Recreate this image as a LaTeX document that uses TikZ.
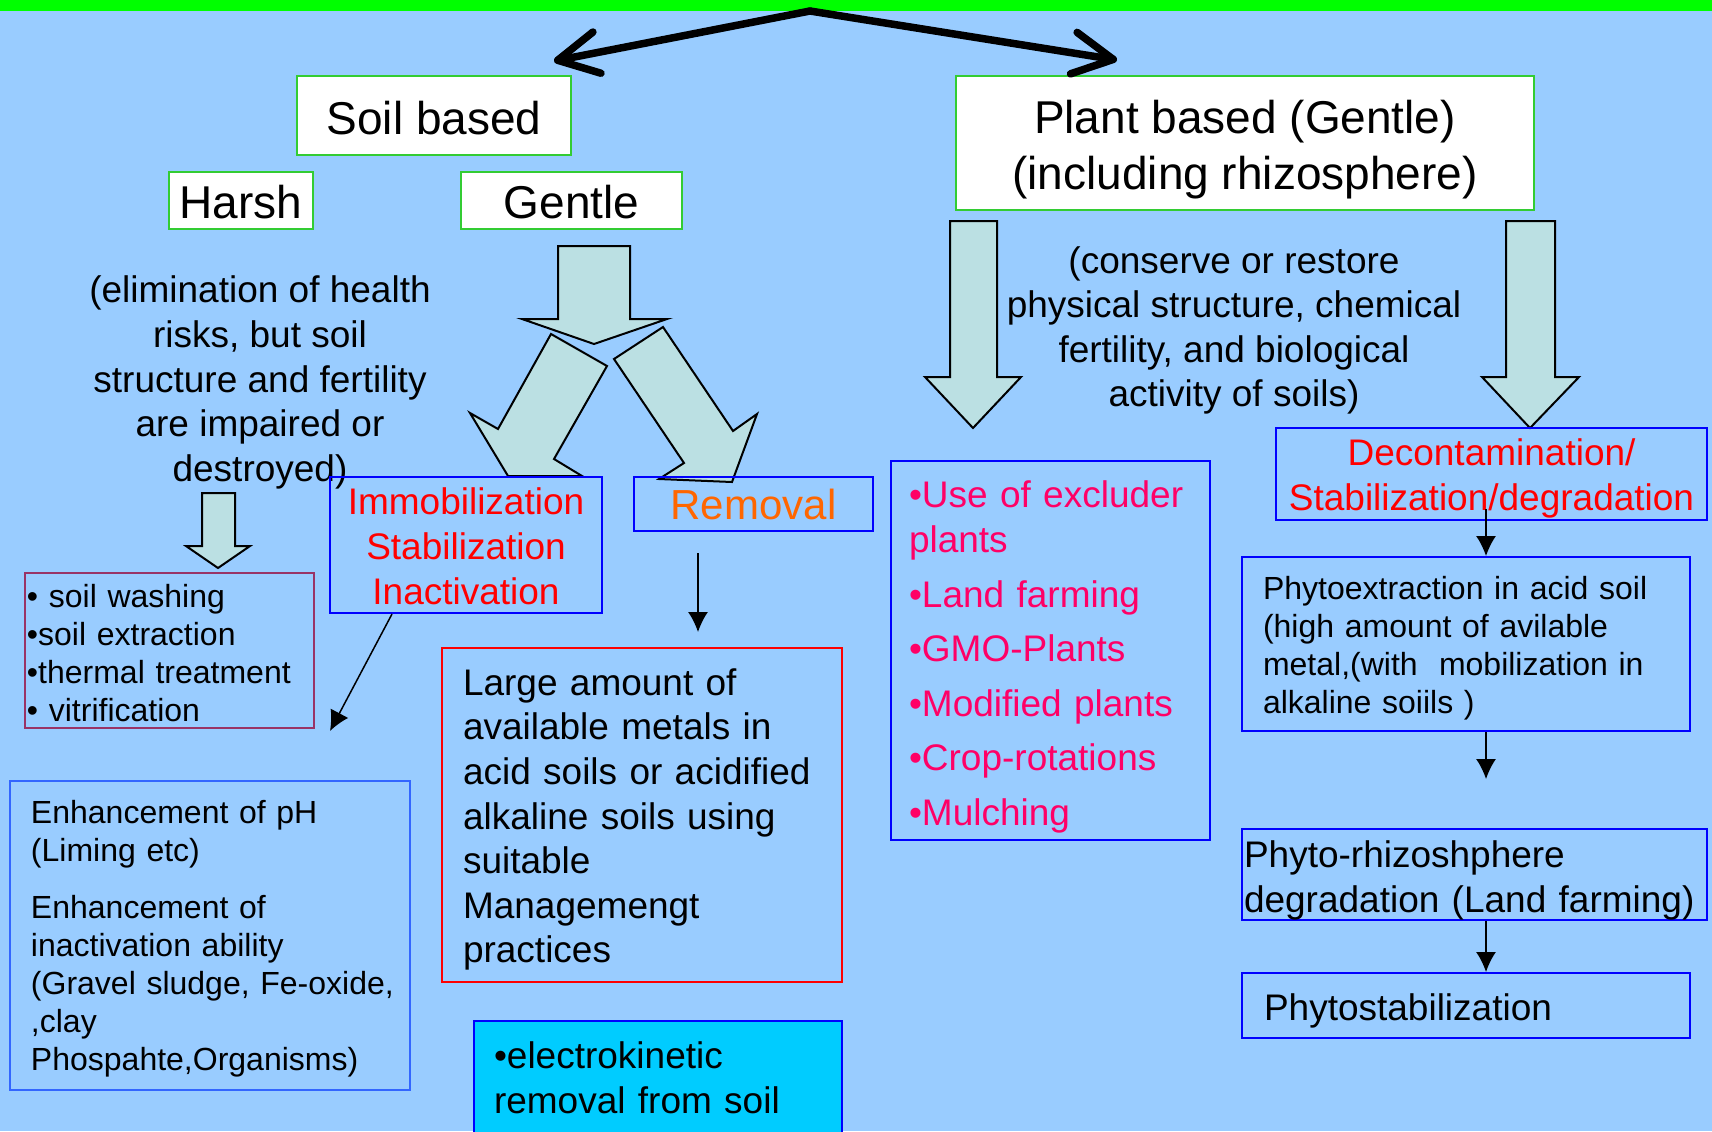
\documentclass[tikz,border=0pt]{standalone}
\usepackage{fontspec}
\setmainfont{Liberation Sans}
\usetikzlibrary{arrows.meta,calc}
\definecolor{bgblue}{RGB}{153,204,255}
\definecolor{bargreen}{RGB}{0,255,0}
\definecolor{boxgreen}{RGB}{51,204,51}
\definecolor{arrowfill}{RGB}{187,224,227}
\definecolor{txtred}{RGB}{255,0,0}
\definecolor{txtorange}{RGB}{255,102,0}
\definecolor{txtpink}{RGB}{255,0,102}
\definecolor{washborder}{RGB}{153,51,102}
\definecolor{enhborder}{RGB}{51,102,255}
\definecolor{electrofill}{RGB}{0,204,255}
% left indent for boxed text, with a strut on the first line
\newcommand{\padtext}[3][1em]{\leftskip=#2\relax\rule{0pt}{#1}#3\par}
\newcommand{\topline}[1]{\rule{0pt}{#1}}
\tikzset{
  headbox/.style={draw=boxgreen, fill=white, line width=1pt, inner sep=0pt, align=center},
  framebox/.style={draw=blue, line width=1pt, inner sep=0pt},
  leftbox/.style={framebox, align=left},
  headfont/.style={font=\fontsize{23}{28}\selectfont},
  midfont/.style={font=\fontsize{18.5}{22.3}\selectfont},
  smallfont/.style={font=\fontsize{16}{19}\selectfont},
  blockarrow/.style={draw=black, fill=arrowfill, line width=1pt},
  conn/.style={-{Latex[length=10pt,width=10pt]}, line width=0.75pt},
  forkarrow/.style={-{Straight Barb[length=20pt,width=21pt,round]}, line width=3.75pt, line cap=round}
}

\begin{document}
\begin{tikzpicture}[x=0.5pt,y=-0.5pt]
  \useasboundingbox (0,0) rectangle (1712,1131);
  \fill[bgblue] (0,0) rectangle (1712,1131);
  \fill[bargreen] (0,0) rectangle (1712,11);

  % block arrows
  \draw[blockarrow] (202,493) -- (235,493) -- (235,546) -- (250,546) -- (218,568) -- (186,546) -- (202,546) -- cycle;
  \draw[blockarrow] (558,246) -- (630,246) -- (630,319) -- (667,319) -- (594,344) -- (522,319) -- (558,319) -- cycle;
  \draw[blockarrow] (551,334) -- (607,366) -- (554,459) -- (582,476) -- (508,476) -- (470,413) -- (498,429) -- cycle;
  \draw[blockarrow] (663,327) -- (614,359) -- (684,463) -- (659,479) -- (732,482) -- (757,414) -- (733,431) -- cycle;
  \draw[blockarrow] (950,221) -- (997,221) -- (997,377) -- (1021,377) -- (973,428) -- (925,377) -- (950,377) -- cycle;
  \draw[blockarrow] (1506,221) -- (1555,221) -- (1555,377) -- (1579,377) -- (1530,428) -- (1482,377) -- (1506,377) -- cycle;

  % soil based side
  \node[headbox, headfont, minimum width=137pt, minimum height=39.5pt] (soil) at (434,115.5) {\topline{0.83em}Soil based};
  \node[headbox, headfont, minimum width=72pt, minimum height=28.5pt] (harsh) at (241,200.5) {\topline{0.78em}Harsh};
  \node[headbox, headfont, minimum width=110.5pt, minimum height=28.5pt] (gentle) at (571.5,200.5) {\topline{0.78em}Gentle};
  \node[midfont, align=center] (elim) at (260,378)
    {\topline{0.97em}(elimination of health\\risks, but soil\\structure and fertility\\are impaired or\\destroyed)};
  \node[leftbox, draw=washborder, smallfont, text width=144.5pt, minimum height=77.5pt] (wash) at (169.5,650.5)
    {\padtext[0.87em]{1pt}{• soil washing\\•soil extraction\\•thermal treatment\\• vitrification}};
  \node[framebox, midfont, text=txtred, align=center, minimum width=136pt, minimum height=68pt] (immob) at (466,545)
    {\topline{0.79em}Immobilization\\Stabilization\\Inactivation};
  \node[framebox, font=\fontsize{21}{25}\selectfont, text=txtorange, minimum width=119.5pt, minimum height=27pt] (removal) at (753.5,504) {Removal};
  \node[leftbox, draw=txtred, midfont, text width=200pt, minimum height=167pt] (large) at (642,815)
    {\padtext[0.97em]{10.5pt}{Large amount of\\available metals in\\acid soils or acidified\\alkaline soils using\\suitable\\Managemengt\\practices}};
  \node[leftbox, fill=electrofill, midfont, text width=184pt, minimum height=56.5pt] (electro) at (658,1077.5)
    {\padtext[0.73em]{10pt}{•electrokinetic\\removal from soil}};
  \node[leftbox, draw=enhborder, smallfont, text width=200pt, minimum height=154.5pt] (enhance) at (210,935.5)
    {\padtext[0.94em]{10.5pt}{Enhancement of pH\\(Liming etc)\\[9.5pt]Enhancement of\\inactivation ability\\(Gravel sludge, Fe-oxide,\\,clay\\Phospahte,Organisms)}};

  % plant based side
  \node[headbox, headfont, minimum width=289pt, minimum height=67pt] (plant) at (1245,143)
    {\topline{1em}Plant based (Gentle)\\(including rhizosphere)};
  \node[midfont, align=center] (conserve) at (1234,327)
    {\topline{0.91em}(conserve or restore\\physical structure, chemical\\fertility, and biological\\activity of soils)};
  \node[leftbox, midfont, text=txtpink, text width=159.5pt, minimum height=189.5pt] (excluder) at (1050.5,650.5)
    {\padtext[1.08em]{9pt}{•Use of excluder\\plants\\[5pt]•Land farming\\[5pt]•GMO-Plants\\[5pt]•Modified plants\\[5pt]•Crop-rotations\\[5pt]•Mulching}};
  \node[framebox, font=\fontsize{18.5}{22.5}\selectfont, text=txtred, align=center, minimum width=215.5pt, minimum height=46pt] (decon) at (1491.5,474)
    {\topline{0.97em}Decontamination/\\Stabilization/degradation};
  \node[leftbox, smallfont, text width=224pt, minimum height=87pt] (phytoex) at (1466,644)
    {\padtext{10.5pt}{Phytoextraction in acid soil\\(high amount of avilable\\metal,(with~~mobilization in\\alkaline soiils )}};
  \node[leftbox, font=\fontsize{18.5}{22.5}\selectfont, text width=232.5pt, minimum height=45.5pt] (rhizo) at (1474.5,874.5)
    {\padtext[1.03em]{1pt}{Phyto-rhizoshphere\\degradation (Land farming)}};
  \node[leftbox, midfont, text width=224pt, minimum height=32.5pt] (phytostab) at (1466,1005.5)
    {\padtext[1.03em]{11pt}{Phytostabilization}};

  % connectors
  \coordinate (immobend) at (330,731);
  \coordinate (remend) at (698,632);
  \coordinate (exend) at (1486,779);
  \draw[conn] (immob.223) -- (immobend);
  \draw[conn, shorten <=10.5pt] (removal.south -| remend) -- (remend);
  \draw[conn] ($(decon.south -| exend)+(0,-12)$) -- (exend |- phytoex.north);
  \draw[conn] (exend |- phytoex.south) -- (exend);
  \draw[conn] (rhizo.south -| exend) -- (exend |- phytostab.north);

  % split at the top
  \coordinate (apex) at (810,11);
  \draw[forkarrow] (apex) -- ($(soil.north east)+(-18,-14)$);
  \draw[forkarrow] (apex) -- ($(plant.north)+(-128,-15)$);
\end{tikzpicture}
\end{document}
